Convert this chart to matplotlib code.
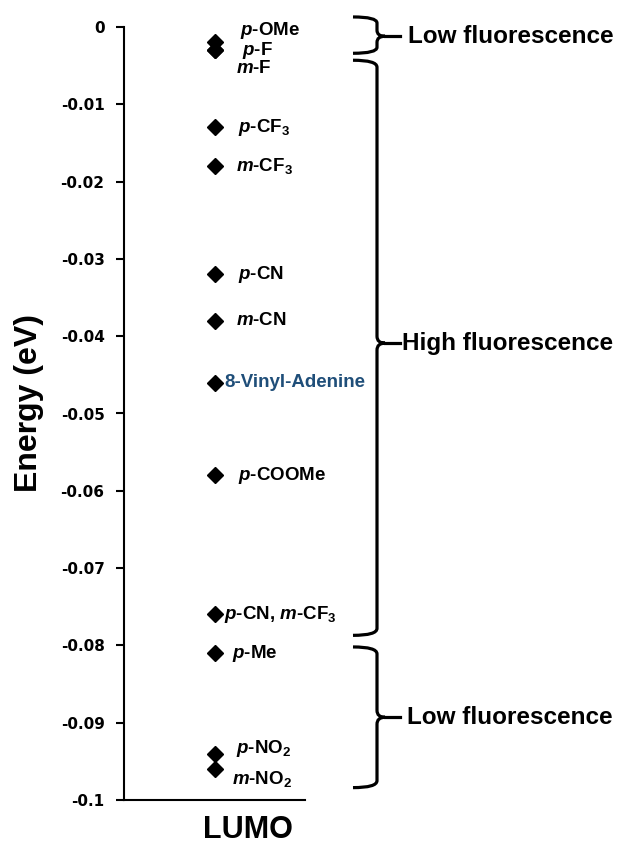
import matplotlib
matplotlib.use("Agg")
import matplotlib.pyplot as plt
from matplotlib.path import Path
from matplotlib.patches import PathPatch
from matplotlib.transforms import blended_transform_factory

plt.rcParams['font.family'] = ['Liberation Sans', 'DejaVu Sans']
plt.rcParams['font.weight'] = 'bold'
plt.rcParams['mathtext.fontset'] = 'custom'
plt.rcParams['mathtext.rm'] = 'Liberation Sans:bold'
plt.rcParams['mathtext.it'] = 'Liberation Sans:italic:bold'
plt.rcParams['mathtext.bf'] = 'Liberation Sans:bold'
plt.rcParams['mathtext.default'] = 'rm'

# ---- data ----
names = [r'$\mathit{p}$-OMe', r'$\mathit{p}$-F', r'$\mathit{m}$-F',
         r'$\mathit{p}$-CF$_3$', r'$\mathit{m}$-CF$_3$',
         r'$\mathit{p}$-CN', r'$\mathit{m}$-CN', '8-Vinyl-Adenine',
         r'$\mathit{p}$-COOMe', r'$\mathit{p}$-CN, $\mathit{m}$-CF$_3$',
         r'$\mathit{p}$-Me', r'$\mathit{p}$-NO$_2$', r'$\mathit{m}$-NO$_2$']
lumo = [-0.002, -0.003, -0.003, -0.013, -0.018, -0.032, -0.038, -0.046,
        -0.058, -0.076, -0.081, -0.094, -0.096]
yticks = [0, -0.01, -0.02, -0.03, -0.04, -0.05, -0.06, -0.07, -0.08, -0.09, -0.1]
ytick_labels = ['0', '-0.01', '-0.02', '-0.03', '-0.04', '-0.05', '-0.06',
                '-0.07', '-0.08', '-0.09', '-0.1']
x_category = 'LUMO'
groups_top = [0.0013, -0.0043, -0.0802]
groups_bottom = [-0.0034, -0.0787, -0.0984]
groups_tip = [-0.0012, -0.0409, -0.0893]
groups_label = ['Low fluorescence', 'High fluorescence', 'Low fluorescence']

# ---- styles ----
label_offsets_px = [(25, -12), (27, 0), (22, 18), (23, 0), (22, 0), (23, 0),
                    (22, 0), (10, 0), (23, 0), (9, 0), (17, 0), (22, -5), (18, 10)]
label_colors = ['black'] * 7 + ['#1f4e79'] + ['black'] * 5

W, H = 617, 846
fig = plt.figure(figsize=(W / 100, H / 100), dpi=100)
ax = fig.add_axes([124 / W, 46 / H, 181 / W, 773 / H])

xs = [1] * len(lumo)
ax.plot(xs, lumo, linestyle='none', marker='D', markersize=8.5, color='black')

for x, y, name, (dx, dy), c in zip(xs, lumo, names, label_offsets_px, label_colors):
    ax.annotate(name, (x, y), xytext=(dx * 0.72, -dy * 0.72), textcoords='offset points',
                ha='left', va='center', fontsize=13.5, fontweight='bold', color=c)

ax.set_xlim(0, 2)
ax.set_ylim(-0.1, 0)
ax.set_xticks([])
ax.set_yticks(yticks)
ax.set_yticklabels(ytick_labels)
ax.tick_params(axis='y', direction='out', length=6, width=1.5, pad=8)
for lab in ax.get_yticklabels():
    lab.set_fontweight('bold')
    lab.set_fontfamily('DejaVu Sans')
    lab.set_fontsize(11)
for s in ['top', 'right']:
    ax.spines[s].set_visible(False)
for s in ['left', 'bottom']:
    ax.spines[s].set_linewidth(1.5)

ax.set_xlabel(x_category, fontsize=22, fontweight='bold')
ax.xaxis.set_label_coords(0.685, -0.02)
ax.xaxis.label.set_va('top')
ax.set_ylabel('Energy (eV)', fontsize=23, fontweight='bold')
ax.yaxis.set_label_coords(-0.44, 0.514)

# ---- braces ----
tr = blended_transform_factory(fig.transFigure, ax.transData)
x_end, x_sp, x_tip, x_stub = 353 / W, 377 / W, 385 / W, 400 / W
text_x = [408 / W, 402 / W, 407 / W]
for top, bot, tip, lab, tx in zip(groups_top, groups_bottom, groups_tip, groups_label, text_x):
    r = min(0.0009, (top - bot) / 6)
    verts = [(x_end, top), (x_sp, top), (x_sp, top - r),
             (x_sp, tip + r),
             (x_sp, tip), (x_tip, tip),
             (x_sp, tip), (x_sp, tip - r),
             (x_sp, bot + r),
             (x_sp, bot), (x_end, bot)]
    codes = [Path.MOVETO, Path.CURVE3, Path.CURVE3,
             Path.LINETO,
             Path.CURVE3, Path.CURVE3,
             Path.CURVE3, Path.CURVE3,
             Path.LINETO,
             Path.CURVE3, Path.CURVE3]
    ax.add_patch(PathPatch(Path(verts, codes), transform=tr, fill=False,
                           lw=2.3, color='black', clip_on=False, capstyle='butt'))
    ax.plot([x_tip, x_stub], [tip, tip], transform=tr, color='black', lw=2.3, clip_on=False)
    ax.text(tx, tip, lab, transform=tr, ha='left', va='center', fontsize=17.5,
            fontweight='bold', clip_on=False)

fig.savefig('out.png', dpi=100)
